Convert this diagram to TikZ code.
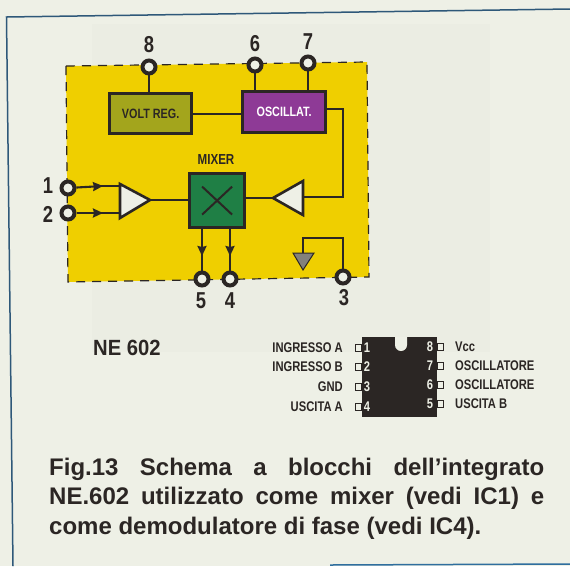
\documentclass[tikz,border=0pt]{standalone}
\usepackage{fontspec}
\setmainfont{Liberation Sans}
\newfontfamily\cond[FakeStretch=0.8]{Liberation Sans}
\newfontfamily\condw[FakeStretch=0.92]{Liberation Sans}
\usetikzlibrary{arrows.meta}
\definecolor{paper}{HTML}{EEF0E6}
\definecolor{ghost}{HTML}{EBEDE3}
\definecolor{ink}{HTML}{2B2624}
\definecolor{frameblue}{HTML}{2F6E9E}
\definecolor{chipyellow}{HTML}{EFCF00}
\definecolor{voltgreen}{HTML}{A3A51C}
\definecolor{oscpurple}{HTML}{8E3A96}
\definecolor{mixgreen}{HTML}{1F7F45}
\tikzset{
  x=1pt,y=-1pt,
  wire/.style={draw=ink,line width=2.1pt},
  flow/.style={wire,-{Stealth[length=10pt,width=9pt,inset=1pt]}},
  blockbox/.style={draw=ink,line width=3.2pt,inner sep=0pt,anchor=north west},
  terminal/.style={circle,draw=ink,fill=paper,line width=4pt,minimum size=13pt,inner sep=0pt},
  amp/.style={draw=ink,line width=2.6pt,fill=paper,line join=miter},
  pinnum/.style={font=\cond\bfseries\fontsize{23}{23}\selectfont,text=ink,inner sep=0pt},
  blocktxt/.style={font=\cond\bfseries\fontsize{13.5}{14}\selectfont,inner sep=0pt},
  iclabel/.style={font=\cond\bfseries\fontsize{14}{14}\selectfont,text=ink,inner sep=0pt},
  icpin/.style={draw=ink,line width=1pt,fill=paper,minimum width=6pt,minimum height=7pt,inner sep=0pt},
  icnum/.style={font=\cond\bfseries\fontsize{14}{14}\selectfont,text=paper,inner sep=0pt},
  capline/.style={font=\bfseries\fontsize{24}{24}\selectfont,text=ink,inner sep=0pt,anchor=base west},
}
\begin{document}
\begin{tikzpicture}
\useasboundingbox (0,0) rectangle (570,566);
\fill[paper] (0,0) rectangle (570,566);
\fill[ghost] (92,24) rectangle (490,352);
\draw[frameblue!70!ink,line width=1.5pt] (570,9) -- (6.5,17) -- (13,566);
\draw[frameblue,line width=1.5pt] (330,565) -- (570,564);
% chip outline
\fill[chipyellow] (66,66) -- (367,62) -- (369,277) -- (68,282) -- cycle;
\draw[ink,line width=1.2pt,dash pattern=on 9pt off 7pt] (66,66) -- (367,62) -- (369,277) -- (68,282) -- cycle;
% blocks
\node[blockbox,fill=voltgreen,minimum width=82pt,minimum height=40pt] (volt) at (108,92) {};
\node[blocktxt,text=ink] at (volt.center) {VOLT REG.};
\node[blockbox,fill=oscpurple,minimum width=83pt,minimum height=41pt] (osc) at (241,90) {};
\node[blocktxt,text=white] at (osc.center) {OSCILLAT.};
\node[blockbox,fill=mixgreen,minimum width=55pt,minimum height=54pt] (mix) at (188,172) {};
\draw[ink,line width=2pt] ([shift={(-15,-14)}]mix.center) -- ([shift={(15,14)}]mix.center);
\draw[ink,line width=2pt] ([shift={(15,-14)}]mix.center) -- ([shift={(-15,14)}]mix.center);
\node[blocktxt,text=ink,font=\cond\bfseries\fontsize{14.5}{15}\selectfont] (mixlabel) at (216,160) {MIXER};
% amplifiers
\coordinate (ampLin1) at (120,186);
\coordinate (ampLin2) at (120,213);
\coordinate (ampLout) at (150,200);
\coordinate (ampRin) at (303,197);
\coordinate (ampRout) at (273,198);
\draw[amp] (120,184) -- (150,200) -- (120,218) -- cycle;
\draw[amp] (303,181) -- (273,198) -- (303,215) -- cycle;
% wires
\draw[wire] (149,67) -- (149,92);
\draw[wire] (255,65) -- (255,90);
\draw[wire] (308,63) -- (308,90);
\draw[wire] (volt.east) -- (osc.west |- volt.east);
\draw[wire] (324,109) -- (343,109) -- (343,197) -- (ampRin);
\draw[wire] (mix.east |- ampRout) -- (ampRout);
\draw[wire] (ampLout) -- (mix.west |- ampLout);
% terminals
\node[terminal] (t8) at (149,67) {};
\node[terminal] (t6) at (255,65) {};
\node[terminal] (t7) at (308,63) {};
\node[terminal] (t1) at (68,188) {};
\node[terminal] (t2) at (68,213) {};
\node[terminal] (t5) at (202,279) {};
\node[terminal] (t4) at (230,279) {};
\node[terminal] (t3) at (343,277) {};
\draw[flow] (t1) -- (103,186);
\draw[wire] (100,186) -- (ampLin1);
\draw[flow] (t2) -- (103,213);
\draw[wire] (100,213) -- (ampLin2);
\draw[flow] (202,226) -- (202,256);
\draw[wire] (202,254) -- (t5);
\draw[flow] (230,226) -- (230,256);
\draw[wire] (230,254) -- (t4);
\coordinate (gnd) at (303,253);
\draw[wire] (t3) -- (343,238) -- (303,238) -- (gnd);
\fill[ink!55!paper,draw=ink,line width=1pt] (293,253) -- (314,253) -- (303,270) -- cycle;
% pin numbers
\node[pinnum] at (149,45) {8};
\node[pinnum] at (255,44) {6};
\node[pinnum] at (308,42) {7};
\node[pinnum] at (48,186) {1};
\node[pinnum] at (48,214) {2};
\node[pinnum] at (201,301) {5};
\node[pinnum] at (230,301) {4};
\node[pinnum] at (344,298) {3};
% NE 602
\node[font=\condw\bfseries\fontsize{22}{22}\selectfont,text=ink,inner sep=0pt] (title) at (127,348) {NE 602};
% IC
\fill[ink] (362,337) rectangle (437,417);
\fill[paper] (395,337) -- (395,345) arc[start angle=180,end angle=0,radius=6] -- (407,337) -- cycle;
\foreach \n/\y/\t in {1/348/INGRESSO A,2/367/INGRESSO B,3/387/GND,4/407/USCITA A}{
  \node[icpin] (L\n) at (358,\y) {};
  \node[icnum] at (367,\y) {\n};
  \node[iclabel,anchor=east] at (343,\y) {\t};
}
\foreach \n/\y/\t in {8/347/Vcc,7/366/OSCILLATORE,6/385/OSCILLATORE,5/404/USCITA B}{
  \node[icpin] (R\n) at (440.5,\y) {};
  \node[icnum] at (430,\y) {\n};
  \node[iclabel,anchor=west] at (455,\y) {\t};
}
% caption
\node[capline] at (49,475) {\makebox[495pt][s]{Fig.13 Schema a blocchi dell’integrato}};
\node[capline] at (49,504) {\makebox[495pt][s]{NE.602 utilizzato come mixer (vedi IC1) e}};
\node[capline] at (49,534) {come demodulatore di fase (vedi IC4).};
\end{tikzpicture}
\end{document}
